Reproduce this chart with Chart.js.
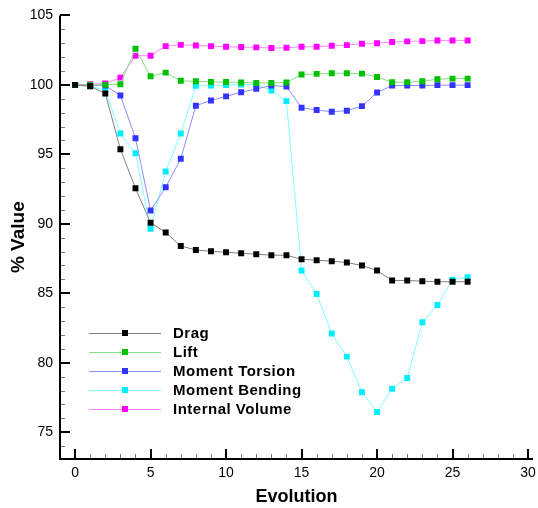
<!DOCTYPE html>
<html>
<head>
<meta charset="utf-8">
<script src="https://cdn.jsdelivr.net/npm/chart.js@4"></script>
<style>
  body { margin: 0; background: #fff; }
  canvas { display: block; }
</style>
</head>
<body>
<canvas id="evoChart" width="538" height="508"></canvas>
<script>
const evolution = [0, 1, 2, 3, 4, 5, 6, 7, 8, 9, 10, 11, 12, 13, 14, 15, 16, 17, 18, 19, 20, 21, 22, 23, 24, 25, 26];
const drag = [100, 99.9, 99.38, 95.37, 92.56, 90.07, 89.38, 88.4, 88.12, 88.02, 87.95, 87.88, 87.81, 87.74, 87.74, 87.45, 87.38, 87.31, 87.21, 87.0, 86.64, 85.92, 85.92, 85.87, 85.83, 85.83, 85.83];
const lift = [100, 100, 100, 100.05, 102.6, 100.62, 100.88, 100.29, 100.26, 100.21, 100.21, 100.17, 100.14, 100.14, 100.17, 100.74, 100.79, 100.84, 100.84, 100.81, 100.57, 100.19, 100.19, 100.26, 100.41, 100.45, 100.45];
const torsion = [100, 99.95, 99.95, 99.24, 96.16, 90.96, 92.63, 94.68, 98.5, 98.88, 99.17, 99.47, 99.71, 99.95, 99.88, 98.35, 98.19, 98.07, 98.14, 98.47, 99.45, 99.95, 99.95, 99.95, 99.98, 99.98, 99.98];
const bending = [100, 99.9, 99.6, 96.5, 95.08, 89.64, 93.77, 96.5, 99.93, 99.95, 99.98, 100.02, 100.02, 99.6, 98.83, 86.64, 84.95, 82.1, 80.44, 77.88, 76.45, 78.12, 78.9, 82.91, 84.16, 85.97, 86.16];
const volume = [100, 100.05, 100.1, 100.52, 102.1, 102.1, 102.79, 102.88, 102.84, 102.79, 102.74, 102.72, 102.7, 102.65, 102.67, 102.74, 102.74, 102.81, 102.86, 102.96, 103.0, 103.08, 103.13, 103.15, 103.2, 103.2, 103.2];
const xTickValues = [0, 5, 10, 15, 20, 25, 30];
const yTickValues = [75, 80, 85, 90, 95, 100, 105];

const FONT = "Arial, 'Liberation Sans', sans-serif";

function series(label, values, line, marker) {
    return {
        label: label,
        data: values.map((v, i) => ({ x: evolution[i], y: v })),
        borderColor: line,
        borderWidth: 1,
        pointStyle: 'rect',
        pointRadius: 4.2,
        pointHoverRadius: 4.2,
        pointBackgroundColor: marker,
        pointBorderWidth: 0,
        tension: 0
    };
}

// inward ticks + axis lines like the original plot
const axisTicks = {
    id: 'axisTicks',
    afterDraw(chart) {
        const ctx = chart.ctx;
        const area = chart.chartArea;
        const xs = chart.scales.x, ys = chart.scales.y;
        ctx.save();
        for (let v = 0; v <= 30; v++) {
            const major = v % 5 === 0;
            const px = Math.round(xs.getPixelForValue(v));
            ctx.fillStyle = major ? '#000' : '#777';
            const len = major ? 10 : 5;
            ctx.fillRect(px - (major ? 1 : 0), area.bottom - len, major ? 2 : 1, len);
        }
        for (let v = 74; v <= 105; v++) {
            const major = v % 5 === 0;
            const py = Math.round(ys.getPixelForValue(v));
            ctx.fillStyle = major ? '#000' : '#777';
            const len = major ? 10 : 5;
            ctx.fillRect(area.left, py - (major ? 1 : 0), len, major ? 2 : 1);
        }
        ctx.fillStyle = '#000';
        ctx.fillRect(area.left - 1, area.top, 2, area.bottom - area.top + 1);
        ctx.fillRect(area.left - 1, area.bottom - 1, area.right - area.left + 1, 2);
        ctx.restore();
    }
};

// legend placed inside the plot area
const innerLegend = {
    id: 'innerLegend',
    afterDraw(chart) {
        const ctx = chart.ctx;
        ctx.save();
        ctx.font = 'bold 15px ' + FONT;
        ctx.letterSpacing = '0.5px';
        ctx.textBaseline = 'middle';
        chart.data.datasets.forEach((ds, i) => {
            const y = 333 + i * 19;
            ctx.strokeStyle = ds.borderColor;
            ctx.lineWidth = 1;
            ctx.beginPath();
            ctx.moveTo(89, y + 0.5);
            ctx.lineTo(161, y + 0.5);
            ctx.stroke();
            ctx.fillStyle = ds.pointBackgroundColor;
            ctx.fillRect(122, y - 3, 6, 6);
            ctx.fillStyle = '#000';
            ctx.fillText(ds.label, 173, y + 1);
        });
        ctx.restore();
    }
};

const ctx = document.getElementById('evoChart').getContext('2d');
const evoChart = new Chart(ctx, {
    type: 'line',
    data: {
        datasets: [
            series('Drag', drag, '#808080', '#000000'),
            series('Lift', lift, '#80e080', '#00c000'),
            series('Moment Torsion', torsion, '#8c8cff', '#3333ff'),
            series('Moment Bending', bending, '#80ffff', '#00eeff'),
            series('Internal Volume', volume, '#ff88ff', '#ff00ff')
        ]
    },
    options: {
        responsive: false,
        animation: false,
        layout: { padding: { top: 13, right: 5, left: 0, bottom: 0 } },
        plugins: {
            legend: { display: false },
            tooltip: { enabled: false }
        },
        scales: {
            x: {
                type: 'linear',
                min: -1,
                max: 30.33,
                afterBuildTicks: s => { s.ticks = xTickValues.map(v => ({ value: v })); },
                afterFit: s => { s.height = 49; },
                grid: { display: false, drawTicks: true, tickLength: 6 },
                border: { display: false },
                ticks: { color: '#000', font: { size: 14, family: FONT }, padding: 0, maxRotation: 0 },
                title: { display: true, text: 'Evolution', color: '#000', font: { size: 18, weight: 'bold', family: FONT }, padding: { top: 4, bottom: 0 } }
            },
            y: {
                min: 73.07,
                max: 105,
                afterBuildTicks: s => { s.ticks = yTickValues.map(v => ({ value: v })); },
                afterFit: s => { s.width = 60; },
                grid: { display: false, drawTicks: false },
                border: { display: false },
                ticks: { color: '#000', font: { size: 14, family: FONT }, padding: 7 },
                title: { display: true, text: '% Value', color: '#000', font: { size: 19, weight: 'bold', family: FONT }, padding: { top: 7, bottom: 0 } }
            }
        }
    },
    plugins: [axisTicks, innerLegend]
});
</script>
</body>
</html>
